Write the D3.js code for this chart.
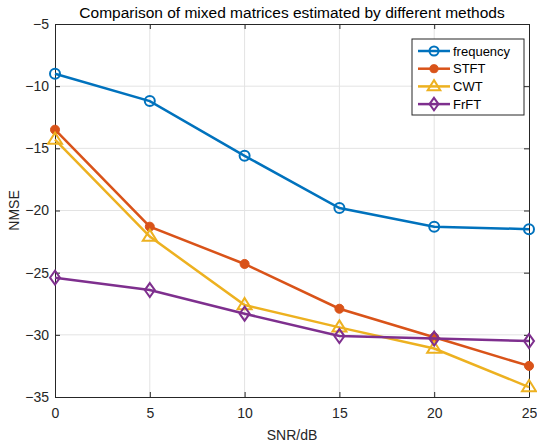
<!DOCTYPE html>
<html>
<head>
<meta charset="utf-8">
<script src="https://cdn.jsdelivr.net/npm/d3@7"></script>
<style>
  body { margin: 0; background: #fff; }
  text { font-family: "Liberation Sans", Arial, sans-serif; }
</style>
</head>
<body>
<div id="chart"></div>
<script>
const snr = [0, 5, 10, 15, 20, 25];
const xTicks = [0, 5, 10, 15, 20, 25];
const yTicks = [-35, -30, -25, -20, -15, -10, -5];
const frequency = [-9.0, -11.2, -15.6, -19.8, -21.3, -21.5];
const stft = [-13.5, -21.3, -24.3, -27.9, -30.2, -32.5];
const cwt = [-14.3, -22.1, -27.6, -29.4, -31.1, -34.2];
const frft = [-25.4, -26.4, -28.3, -30.1, -30.3, -30.5];
const names = ["frequency", "STFT", "CWT", "FrFT"];

const width = 537, height = 445;
const margin = { left: 55, right: 8, top: 24, bottom: 48 };

const series = [
  { name: names[0], values: frequency, color: "#0072BD", marker: "circle" },
  { name: names[1], values: stft, color: "#D95319", marker: "dot" },
  { name: names[2], values: cwt, color: "#EDB120", marker: "triangle" },
  { name: names[3], values: frft, color: "#7E2F8E", marker: "diamond" }
];

let svg = d3.select("#chart").append("svg")
  .attr("width", width).attr("height", height);

let x = d3.scaleLinear().domain([0, 25]).range([margin.left, width - margin.right]);
let y = d3.scaleLinear().domain([-35, -5]).range([height - margin.bottom, margin.top]);

// grid
svg.append("g").selectAll("line").data(xTicks.slice(1, -1)).enter().append("line")
  .attr("x1", d => x(d)).attr("x2", d => x(d))
  .attr("y1", y(-35)).attr("y2", y(-5))
  .attr("stroke", "#e3e3e3").attr("stroke-width", 1);
svg.append("g").selectAll("line").data(yTicks.slice(1, -1)).enter().append("line")
  .attr("x1", x(0)).attr("x2", x(25))
  .attr("y1", d => y(d)).attr("y2", d => y(d))
  .attr("stroke", "#e3e3e3").attr("stroke-width", 1);

// axes
let xAxis = svg.append("g").attr("transform", `translate(0,${y(-35)})`)
  .call(d3.axisBottom(x).tickValues(xTicks).tickSizeInner(-5).tickSizeOuter(0).tickPadding(11));
let xTop = svg.append("g").attr("transform", `translate(0,${y(-5)})`)
  .call(d3.axisTop(x).tickValues(xTicks).tickSizeInner(-5).tickSizeOuter(0).tickFormat(""));
let yAxis = svg.append("g").attr("transform", `translate(${x(0)},0)`)
  .call(d3.axisLeft(y).tickValues(yTicks).tickSizeInner(-5).tickSizeOuter(0).tickPadding(6));
let yRight = svg.append("g").attr("transform", `translate(${x(25)},0)`)
  .call(d3.axisRight(y).tickValues(yTicks).tickSizeInner(-5).tickSizeOuter(0).tickFormat(""));

[xAxis, xTop, yAxis, yRight].forEach(function (g) {
  g.select(".domain").attr("stroke", "#262626").attr("stroke-width", 1);
  g.selectAll(".tick line").attr("stroke", "#262626");
  g.selectAll(".tick text").attr("fill", "#262626").style("font-size", "14px");
});

// lines
let line = d3.line().x((d, i) => x(snr[i])).y(d => y(d));

function drawMarker(g, type, color, cx, cy, s) {
  if (type === "circle") {
    g.append("circle").attr("cx", cx).attr("cy", cy).attr("r", 5 * s)
      .attr("fill", "none").attr("stroke", color).attr("stroke-width", 2);
  } else if (type === "dot") {
    g.append("circle").attr("cx", cx).attr("cy", cy).attr("r", 4.5 * s)
      .attr("fill", color).attr("stroke", color).attr("stroke-width", 1);
  } else if (type === "triangle") {
    let r = 7 * s;
    g.append("path")
      .attr("d", `M${cx},${cy - r}L${cx + r},${cy + r * 0.6}L${cx - r},${cy + r * 0.6}Z`)
      .attr("fill", "none").attr("stroke", color).attr("stroke-width", 2);
  } else {
    let w = 5 * s, h = 7 * s;
    g.append("path")
      .attr("d", `M${cx},${cy - h}L${cx + w},${cy}L${cx},${cy + h}L${cx - w},${cy}Z`)
      .attr("fill", "none").attr("stroke", color).attr("stroke-width", 2);
  }
}

series.forEach(function (s) {
  let g = svg.append("g");
  g.append("path").datum(s.values)
    .attr("d", line).attr("fill", "none")
    .attr("stroke", s.color).attr("stroke-width", 2.5);
  s.values.forEach(function (v, i) {
    drawMarker(g, s.marker, s.color, x(snr[i]), y(v), 1);
  });
});

// legend
let legend = svg.append("g");
legend.append("rect").attr("x", 412).attr("y", 39).attr("width", 112).attr("height", 76)
  .attr("fill", "#fff").attr("stroke", "#262626").attr("stroke-width", 1);
series.forEach(function (s, i) {
  let ly = 51 + i * 17.7;
  legend.append("line").attr("x1", 418).attr("x2", 450).attr("y1", ly).attr("y2", ly)
    .attr("stroke", s.color).attr("stroke-width", 2.5);
  drawMarker(legend, s.marker, s.color, 434, ly, 0.9);
  legend.append("text").attr("x", 453).attr("y", ly + 4.5)
    .attr("fill", "#000").style("font-size", "13px").text(s.name);
});

// labels
svg.append("text").attr("x", (x(0) + x(25)) / 2).attr("y", 18)
  .attr("text-anchor", "middle").style("font-size", "15.5px").attr("fill", "#000")
  .text("Comparison of mixed matrices estimated by different methods");
svg.append("text").attr("x", (x(0) + x(25)) / 2).attr("y", 440)
  .attr("text-anchor", "middle").style("font-size", "14px").attr("fill", "#262626")
  .text("SNR/dB");
svg.append("text").attr("transform", `translate(19,${(y(-5) + y(-35)) / 2}) rotate(-90)`)
  .attr("text-anchor", "middle").style("font-size", "14px").attr("fill", "#262626")
  .text("NMSE");
</script>
</body>
</html>
